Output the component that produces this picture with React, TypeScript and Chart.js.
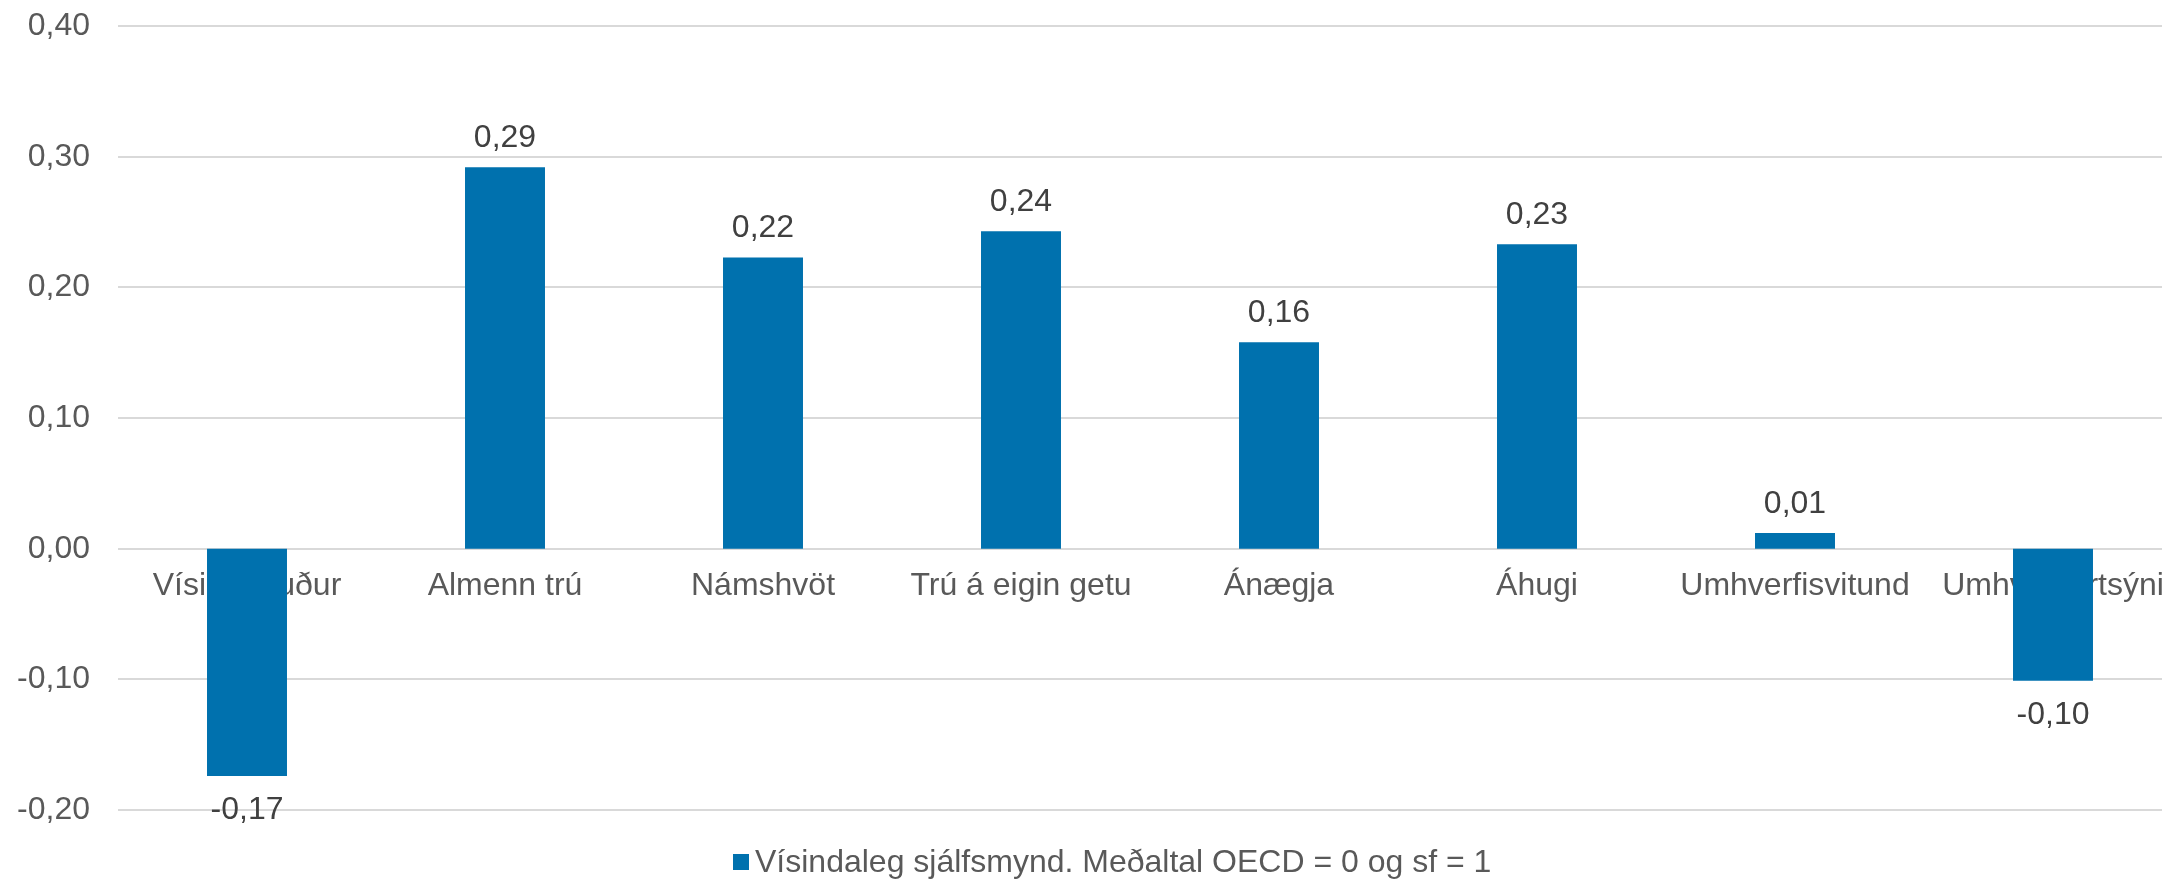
import React, { useEffect, useRef } from "react";
import { Chart, registerables } from "chart.js";

Chart.register(...registerables);

const categories = [
  "Vísindaauður",
  "Almenn trú",
  "Námshvöt",
  "Trú á eigin getu",
  "Ánægja",
  "Áhugi",
  "Umhverfisvitund",
  "Umhv. Bjartsýni",
];
const values = [-0.174, 0.292, 0.223, 0.243, 0.158, 0.233, 0.012, -0.101];
const seriesLabel = "Vísindaleg sjálfsmynd. Meðaltal OECD = 0 og sf = 1";
const yMin = -0.2;
const yMax = 0.4;
const yStep = 0.1;

const BAR = "#0071AE";
const FONT = "'Liberation Sans', Arial, sans-serif";
const FS = 32;
const SHIFT = 21;
const fmt = (v: number) => v.toFixed(2).replace(".", ",");

const dataLabelPlugin = {
  id: "dataLabels",
  afterDatasetsDraw(chart: any) {
    const ctx = chart.ctx;
    const meta = chart.getDatasetMeta(0);
    ctx.save();
    ctx.font = `${FS}px ${FONT}`;
    ctx.fillStyle = "#404040";
    ctx.textAlign = "center";
    ctx.textBaseline = "alphabetic";
    meta.data.forEach((bar: any, i: number) => {
      const v = values[i];
      const y = v >= 0 ? bar.y - 20 : bar.y + 43;
      ctx.fillText(fmt(v), bar.x, y);
    });
    ctx.restore();
  },
};

const legendPlugin = {
  id: "customLegend",
  afterDraw(chart: any) {
    const ctx = chart.ctx;
    ctx.save();
    const boxX = 733;
    const cy = 863 + SHIFT;
    ctx.fillStyle = BAR;
    ctx.fillRect(boxX, cy - 9, 16, 16);
    ctx.font = `${FS}px ${FONT}`;
    ctx.fillStyle = "#595959";
    ctx.textAlign = "left";
    ctx.textBaseline = "middle";
    ctx.fillText(seriesLabel, boxX + 22, cy);
    ctx.restore();
  },
};

export default function App() {
  const ref = useRef<HTMLCanvasElement>(null);
  useEffect(() => {
    document.body.style.margin = "0";
    const canvas = ref.current!;
    const chart = new Chart(canvas, {
      type: "bar",
      data: {
        labels: categories,
        datasets: [
          {
            label: seriesLabel,
            data: values,
            backgroundColor: BAR,
            barPercentage: 0.31,
            categoryPercentage: 1,
          },
        ],
      },
      options: {
        animation: false,
        responsive: false,
        devicePixelRatio: 1,
        layout: { padding: { top: 5, bottom: 73, left: 0, right: 0 } },
        plugins: {
          legend: { display: false },
          tooltip: { enabled: false },
        },
        scales: {
          x: {
            position: { y: 0 } as any,
            z: 1,
            grid: { display: false },
            border: { display: false },
            ticks: {
              autoSkip: false,
              maxRotation: 0,
              minRotation: 0,
              padding: 10,
              color: "#595959",
              font: { family: FONT, size: FS },
            },
          },
          y: {
            min: yMin,
            max: yMax,
            grid: { color: "#D9D9D9", lineWidth: 2, drawTicks: false },
            border: { display: false },
            ticks: {
              stepSize: yStep,
              padding: 28,
              color: "#595959",
              font: { family: FONT, size: FS },
              callback: (v: any) => fmt(Number(v)),
            },
            afterFit: (s: any) => {
              s.width = 118;
            },
          },
        },
      },
      plugins: [dataLabelPlugin, legendPlugin],
    });
    return () => chart.destroy();
  }, []);
  return (
    <div style={{ width: 2162, height: 883, overflow: "hidden", background: "#fff" }}>
      <canvas
        ref={ref}
        width={2182}
        height={883 + SHIFT}
        style={{ width: 2182, height: 883 + SHIFT, display: "block", marginTop: -SHIFT }}
      />
    </div>
  );
}
